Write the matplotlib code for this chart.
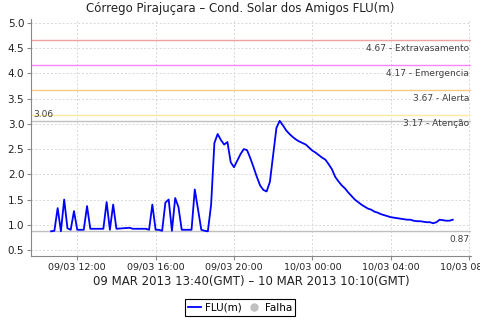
import datetime as dt
import matplotlib
matplotlib.use("Agg")
import matplotlib.pyplot as plt
import matplotlib.dates as mdates
from matplotlib.lines import Line2D

# leituras a cada 10 min a partir de 09/03 10:40 (indice, nivel em m)
idx = [0, 1, 2, 3, 4, 5, 6, 7, 8, 10, 11, 12, 16, 17, 18, 19, 20, 24, 25,
       29, 30, 31, 32, 33, 34, 35, 36, 37, 38, 39, 40, 43, 44, 46, 47, 48,
       49, 50, 51, 52, 53, 54, 55, 56, 57, 58, 59, 60, 61, 62, 63, 64, 65,
       66, 67, 69, 70, 71, 72, 73, 74, 75, 76, 77, 78, 80, 81, 82, 83, 84,
       85, 86, 87, 88, 89, 90, 91, 92, 93, 94, 95, 96, 97, 98, 99, 100, 101,
       102, 103, 104, 105, 106, 107, 108, 109, 110, 111, 112, 113, 114, 115,
       116, 117, 118, 119, 120, 121, 122, 123]
nivel = [0.87, 0.88, 1.33, 0.87, 1.50, 0.93, 0.90, 1.27, 0.90, 0.90, 1.37,
         0.92, 0.92, 1.45, 0.90, 1.40, 0.92, 0.94, 0.92, 0.92, 0.90, 1.40,
         0.90, 0.90, 0.88, 1.44, 1.50, 0.88, 1.53, 1.35, 0.90, 0.90, 1.70,
         0.90, 0.88, 0.87, 1.40, 2.62, 2.80, 2.68, 2.59, 2.64, 2.24, 2.14,
         2.27, 2.40, 2.50, 2.48, 2.32, 2.14, 1.95, 1.78, 1.69, 1.66, 1.85,
         2.92, 3.06, 2.97, 2.87, 2.80, 2.74, 2.69, 2.65, 2.62, 2.59, 2.47,
         2.43, 2.38, 2.33, 2.29, 2.20, 2.10, 1.95, 1.86, 1.78, 1.72, 1.64,
         1.57, 1.50, 1.45, 1.40, 1.36, 1.32, 1.30, 1.26, 1.24, 1.21, 1.19,
         1.17, 1.15, 1.14, 1.13, 1.12, 1.11, 1.10, 1.10, 1.08, 1.07, 1.07,
         1.06, 1.05, 1.05, 1.03, 1.05, 1.10, 1.09, 1.08, 1.08, 1.10]

# cotas de referencia
cotas = [4.67, 4.17, 3.67, 3.17]
cotas_nome = ['Extravasamento', 'Emergencia', 'Alerta', 'Atenção']
cotas_cor = ['#f0a0a0', '#ff80ff', '#ffc880', '#ffe9a0']
nivel_max = 3.06
nivel_min = 0.87

inicio = dt.datetime(2013, 3, 9, 10, 40)
tempos = [inicio + dt.timedelta(minutes=10 * i) for i in idx]

fig = plt.figure(figsize=(4.8, 3.2), dpi=100)
ax = fig.add_axes([0.065, 0.2, 0.917, 0.7406])

cinza = '#404040'
for c, nome, cor in zip(cotas, cotas_nome, cotas_cor):
    ax.axhline(c, color=cor, lw=1.0, zorder=1)
    ax.annotate('%.2f - %s' % (c, nome), xy=(0.995, c), xycoords=ax.get_yaxis_transform(),
                xytext=(0, -3), textcoords='offset points', ha='right', va='top',
                fontsize=6.5, color=cinza)

# max e min
ax.axhline(nivel_max, color='#c0c0c0', lw=1.0, zorder=1)
ax.annotate('%.2f' % nivel_max, xy=(0.005, nivel_max), xycoords=ax.get_yaxis_transform(),
            xytext=(0, 1), textcoords='offset points', ha='left', va='bottom',
            fontsize=6.5, color=cinza)
ax.axhline(nivel_min, color='#c0c0c0', lw=1.0, zorder=1)
ax.annotate('%.2f' % nivel_min, xy=(0.995, nivel_min), xycoords=ax.get_yaxis_transform(),
            xytext=(0, -3), textcoords='offset points', ha='right', va='top',
            fontsize=6.5, color=cinza)

ax.plot(tempos, nivel, color='#0000ff', lw=1.3, zorder=3)

ax.set_xlim(dt.datetime(2013, 3, 9, 9, 39), dt.datetime(2013, 3, 10, 8, 7))
ax.set_ylim(0.38, 5.08)
ax.set_yticks([0.5, 1.0, 1.5, 2.0, 2.5, 3.0, 3.5, 4.0, 4.5, 5.0])
ax.yaxis.set_major_formatter(matplotlib.ticker.FormatStrFormatter('%.1f'))
ax.xaxis.set_major_locator(mdates.HourLocator(byhour=[0, 4, 8, 12, 16, 20]))
ax.xaxis.set_major_formatter(mdates.DateFormatter('%d/%m %H:%M'))

ax.grid(True, color='#d8d8d8', ls=(0, (2, 2)), lw=0.7)
ax.set_axisbelow(True)
for s in ['top', 'right']:
    ax.spines[s].set_visible(False)
for s in ['left', 'bottom']:
    ax.spines[s].set_color('#888888')
ax.tick_params(axis='both', colors='#888888', length=3, width=0.8, pad=2)
ax.tick_params(axis='x', labelsize=6.8, labelcolor='#222222')
ax.tick_params(axis='y', labelsize=7.5, labelcolor='#222222')

# titulo centrado na figura, nao no eixo
ax.set_title('Córrego Pirajuçara – Cond. Solar dos Amigos FLU(m)', fontsize=8.5, pad=5,
             color='#222222', x=0.475)
ax.set_xlabel('09 MAR 2013 13:40(GMT) – 10 MAR 2013 10:10(GMT)', fontsize=8.5, labelpad=2, color='#222222')

handles = [Line2D([], [], color='#0000ff', lw=1.3),
           Line2D([], [], color='#c0c0c0', marker='o', ls='none', markersize=5)]
leg = fig.legend(handles, ['FLU(m)', 'Falha'], loc='center', bbox_to_anchor=(0.5, 0.039),
                 ncol=2, fontsize=7.5, fancybox=False, edgecolor='black', framealpha=1,
                 handlelength=1.3, handletextpad=0.4, columnspacing=0.5,
                 borderpad=0.3, borderaxespad=0)
leg.get_frame().set_linewidth(0.8)

fig.savefig('out.png', dpi=100)
